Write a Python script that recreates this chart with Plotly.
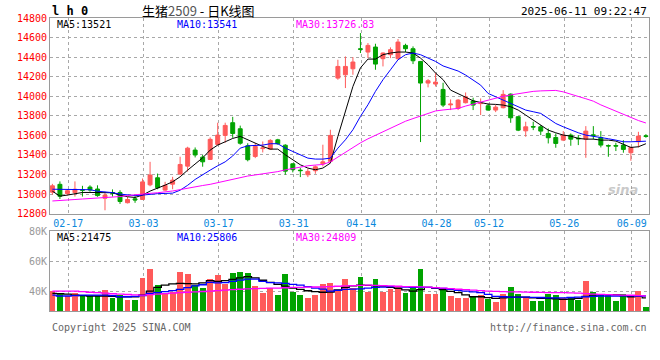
import plotly.graph_objects as go

# ---------------- data ----------------
DATES = ["02-13", "02-14", "02-17", "02-18", "02-19", "02-20", "02-21", "02-24", "02-25", "02-26",
         "02-27", "02-28", "03-03", "03-04", "03-05", "03-06", "03-07", "03-10", "03-11", "03-12",
         "03-13", "03-14", "03-17", "03-18", "03-19", "03-20", "03-21", "03-24", "03-25", "03-26",
         "03-27", "03-28", "03-31", "04-01", "04-02", "04-03", "04-07", "04-08", "04-09", "04-10",
         "04-11", "04-14", "04-15", "04-16", "04-17", "04-18", "04-21", "04-22", "04-23", "04-24",
         "04-25", "04-28", "04-29", "04-30", "05-06", "05-07", "05-08", "05-09", "05-12", "05-13",
         "05-14", "05-15", "05-16", "05-19", "05-20", "05-21", "05-22", "05-23", "05-26", "05-27",
         "05-28", "05-29", "05-30", "06-03", "06-04", "06-05", "06-06", "06-09", "06-10", "06-11"]

OPEN = [13020, 13100, 13005, 13015, 13045, 13072, 13052, 12958, 13016, 13017,
        12912, 12952, 12945, 13095, 13167, 13041, 13102, 13205, 13286, 13450,
        13378, 13355, 13508, 13600, 13730, 13668, 13494, 13385, 13465, 13460,
        13555, 13500, 13310, 13245, 13198, 13239, 13310, 13335, 14186, 14220,
        14281, 14485, 14452, 14503, 14384, 14425, 14384, 14520, 14486, 14356,
        14135, 14125, 14070, 13912, 13876, 13934, 13951, 13925, 13903, 13859,
        13883, 14022, 13791, 13647, 13690, 13688, 13620, 13579, 13552, 13603,
        13572, 13562, 13606, 13579, 13496, 13497, 13501, 13423, 13535, 13596]
HIGH = [13105, 13130, 13050, 13130, 13085, 13090, 13090, 13025, 13048, 13040,
        12973, 12980, 13160, 13330, 13210, 13126, 13177, 13382, 13484, 13477,
        13400, 13580, 13730, 13730, 13790, 13700, 13520, 13521, 13538, 13562,
        13565, 13510, 13312, 13266, 13259, 13293, 13505, 13658, 14373, 14407,
        14400, 14646, 14544, 14537, 14448, 14500, 14585, 14537, 14510, 14360,
        14176, 14237, 14138, 13968, 13971, 14039, 13985, 13978, 13927, 13910,
        14063, 14029, 13797, 13740, 13740, 13705, 13671, 13620, 13644, 13620,
        13603, 13695, 13695, 13644, 13508, 13525, 13552, 13484, 13637, 13613]
LOW = [12995, 12950, 12985, 12975, 12975, 13025, 12973, 12835, 12975, 12900,
       12905, 12911, 12940, 13080, 13050, 13034, 13050, 13194, 13230, 13375,
       13280, 13350, 13500, 13525, 13575, 13505, 13335, 13368, 13426, 13453,
       13505, 13198, 13222, 13174, 13174, 13208, 13283, 13317, 14169, 14084,
       14220, 14442, 14390, 14271, 14305, 14390, 14373, 14452, 14329, 13532,
       14091, 14100, 13890, 13859, 13859, 13927, 13859, 13808, 13852, 13838,
       13876, 13729, 13644, 13586, 13654, 13603, 13518, 13474, 13542, 13494,
       13501, 13371, 13559, 13477, 13382, 13440, 13423, 13341, 13477, 13576]
CLOSE = [13085, 12978, 13035, 13050, 13040, 13042, 12985, 12990, 13010, 12925,
         12945, 12940, 13125, 13195, 13065, 13089, 13143, 13303, 13470, 13400,
         13330, 13560, 13603, 13702, 13620, 13520, 13352, 13487, 13472, 13549,
         13515, 13235, 13250, 13240, 13232, 13279, 13330, 13600, 14305, 14305,
         14350, 14480, 14520, 14329, 14442, 14476, 14554, 14486, 14363, 14135,
         14159, 14145, 13910, 13920, 13961, 13995, 13910, 13930, 13859, 13889,
         14019, 13780, 13654, 13688, 13686, 13644, 13576, 13518, 13603, 13562,
         13566, 13644, 13600, 13501, 13492, 13491, 13457, 13477, 13593, 13590]

MA5 = [13030, 12980, 12990, 13007, 13017, 13017, 13017, 13015, 13014, 12990,
       12973, 12966, 12990, 13031, 13058, 13092, 13126, 13177, 13245, 13313,
       13371, 13450, 13501, 13535, 13569, 13590, 13555, 13521, 13487, 13460,
       13460, 13402, 13351, 13300, 13266, 13249, 13266, 13317, 13590, 13850,
       14100, 14290, 14380, 14380, 14425, 14442, 14452, 14452, 14442, 14390,
       14322, 14237, 14170, 14063, 14029, 13995, 13954, 13937, 13920, 13917,
       13910, 13893, 13859, 13808, 13757, 13705, 13654, 13627, 13603, 13593,
       13569, 13562, 13562, 13552, 13552, 13542, 13511, 13477, 13484, 13515]
MA10 = [13050, 13050, 13048, 13048, 13048, 13045, 13030, 13024, 13015, 13000,
        12990, 12985, 12990, 13000, 13005, 13007, 13010, 13040, 13090, 13150,
        13200, 13245, 13290, 13330, 13390, 13470, 13494, 13494, 13501, 13515,
        13515, 13470, 13436, 13402, 13368, 13358, 13358, 13368, 13470, 13555,
        13658, 13794, 13913, 14050, 14169, 14271, 14373, 14425, 14442, 14425,
        14390, 14356, 14310, 14285, 14258, 14217, 14166, 14114, 14029, 13995,
        13961, 13927, 13893, 13859, 13842, 13825, 13774, 13722, 13688, 13654,
        13627, 13603, 13593, 13579, 13566, 13552, 13535, 13535, 13537, 13541]
MA30 = [12930, 12933, 12940, 12945, 12950, 12955, 12958, 12962, 12968, 12975,
        12985, 12995, 13003, 13008, 13014, 13022, 13032, 13046, 13062, 13072,
        13088, 13100, 13118, 13135, 13152, 13170, 13185, 13196, 13206, 13218,
        13230, 13248, 13262, 13280, 13290, 13297, 13303, 13330, 13380, 13432,
        13480, 13524, 13565, 13602, 13642, 13678, 13710, 13745, 13772, 13796,
        13822, 13850, 13860, 13866, 13876, 13900, 13920, 13940, 13963, 13982,
        14000, 14014, 14027, 14038, 14050, 14055, 14060, 14060, 14045, 14025,
        13998, 13975, 13950, 13912, 13880, 13845, 13810, 13782, 13752, 13727]

# volume, thousands of lots
VOLUME = [40.0, 38.5, 36.5, 38.5, 37.1, 36.5, 36.5, 40.7, 35.3, 37.1,
          34.0, 34.0, 48.7, 54.7, 44.0, 38.5, 39.5, 52.7, 51.3, 44.0,
          42.0, 48.0, 50.7, 44.7, 52.0, 52.7, 52.0, 43.3, 38.9, 42.0,
          37.3, 51.3, 39.3, 37.3, 35.3, 37.3, 44.7, 45.3, 40.7, 48.0,
          42.0, 49.3, 39.3, 48.0, 39.3, 41.3, 43.3, 38.7, 42.0, 54.7,
          38.0, 38.0, 42.0, 36.7, 35.3, 35.3, 36.7, 37.3, 34.7, 32.7,
          38.0, 42.7, 38.0, 36.0, 33.3, 33.3, 38.0, 37.3, 35.3, 35.3,
          34.0, 46.7, 39.3, 37.3, 37.3, 33.3, 38.0, 36.0, 40.0, 29.3]
VOL_MA5 = [38.5, 38.3, 38.0, 37.3, 37.0, 36.7, 36.7, 36.7, 36.5, 36.2,
           36.2, 36.2, 37.5, 40.0, 42.5, 44.0, 44.8, 45.1, 45.0, 44.8,
           45.5, 46.9, 46.5, 47.0, 47.8, 48.8, 49.6, 48.8, 47.2, 45.8,
           44.5, 43.3, 42.0, 41.1, 40.2, 39.6, 39.2, 39.3, 40.8, 42.4,
           43.5, 44.0, 43.8, 43.5, 43.3, 42.5, 41.8, 40.8, 40.0, 41.0,
           42.4, 41.8, 41.0, 39.8, 38.9, 37.5, 36.2, 36.2, 35.6, 35.1,
           35.5, 36.0, 36.0, 36.0, 35.5, 35.1, 35.1, 34.8, 34.4, 34.6,
           35.1, 36.5, 37.3, 37.6, 37.6, 37.6, 37.0, 36.2, 36.4, 35.5]
VOL_MA10 = [37.3, 36.7, 36.7, 37.0, 37.3, 37.3, 37.3, 37.3, 37.0, 36.2,
            36.2, 36.5, 37.0, 38.5, 39.0, 39.6, 40.3, 41.1, 42.3, 43.4,
            44.2, 45.8, 45.5, 45.6, 46.5, 47.3, 48.0, 48.0, 46.5, 45.6,
            45.4, 45.1, 44.5, 44.0, 43.0, 42.0, 41.3, 40.0, 40.5, 41.1,
            41.3, 41.5, 42.0, 42.4, 42.6, 42.9, 42.9, 42.6, 42.5, 42.4,
            42.4, 42.2, 41.8, 41.2, 40.5, 40.0, 39.4, 38.9, 37.8, 36.5,
            36.2, 36.0, 36.0, 36.0, 35.8, 35.7, 35.5, 35.5, 35.5, 35.7,
            35.9, 36.2, 36.5, 36.7, 36.7, 36.7, 36.8, 36.8, 36.7, 36.7]
VOL_MA30 = [40.0, 40.0, 40.0, 40.0, 39.6, 39.2, 38.9, 38.6, 38.2, 38.0,
            37.7, 37.4, 37.3, 37.6, 38.0, 38.3, 38.6, 38.9, 39.2, 39.5,
            39.7, 40.0, 40.3, 40.6, 41.0, 41.2, 41.4, 41.6, 41.8, 41.9,
            42.0, 42.2, 42.4, 42.5, 42.6, 42.7, 42.8, 43.0, 43.2, 43.4,
            43.6, 43.8, 44.0, 43.8, 43.6, 43.4, 43.2, 43.0, 42.9, 42.8,
            42.6, 42.3, 42.0, 41.6, 41.2, 41.0, 40.6, 40.3, 40.0, 39.8,
            39.6, 39.5, 39.4, 39.3, 39.2, 39.1, 39.0, 38.9, 38.9, 38.8,
            38.6, 38.3, 38.0, 37.8, 37.6, 37.4, 37.3, 37.2, 37.0, 36.8]

TICK_DATES = ["02-17", "03-03", "03-17", "03-31", "04-14", "04-28", "05-12", "05-26", "06-09"]
PRICE_TICKS = [12800, 13000, 13200, 13400, 13600, 13800, 14000, 14200, 14400, 14600, 14800]
VOL_TICKS = [40, 60, 80]
VOL_TICK_TEXT = ["40K", "60K", "80K"]

TITLE_CODE = "l h 0"
TITLE = "生猪<span style='color:#555555'>2509</span> - 日K线图"
TIMESTAMP = "2025-06-11 09:22:47"
PRICE_MA_LABELS = ["MA5:13521", "MA10:13541", "MA30:13726.83"]
VOL_MA_LABELS = ["MA5:21475", "MA10:25806", "MA30:24809"]

# ---------------- style ----------------
RED = "#ff5a5a"
GREEN = "#00a300"
GRID = "#a8a8a8"
FRAME = "#9a9a9a"
MONO = "DejaVu Sans Mono"
MA_COLORS = ["#000000", "#0000ff", "#ff00ff"]

idx = list(range(len(DATES)))
tickvals = [DATES.index(d) + 0.12 for d in TICK_DATES]
bar_colors = [RED if c >= o else GREEN for o, c in zip(OPEN, CLOSE)]

fig = go.Figure()

fig.add_trace(go.Candlestick(
    x=idx, open=OPEN, high=HIGH, low=LOW, close=CLOSE,
    increasing=dict(line=dict(color=RED, width=1), fillcolor=RED),
    decreasing=dict(line=dict(color=GREEN, width=1), fillcolor=GREEN),
    whiskerwidth=0, xaxis="x", yaxis="y", hoverinfo="skip",
))
for ser, col in zip([MA5, MA10, MA30], MA_COLORS):
    fig.add_trace(go.Scatter(x=idx, y=ser, mode="lines", line=dict(color=col, width=1),
                             xaxis="x", yaxis="y", hoverinfo="skip"))

fig.add_trace(go.Bar(x=idx, y=VOLUME, marker=dict(color=bar_colors, line=dict(width=0)),
                     width=0.78, xaxis="x2", yaxis="y2", hoverinfo="skip"))
for ser, col in zip([VOL_MA5, VOL_MA10, VOL_MA30], MA_COLORS):
    fig.add_trace(go.Scatter(x=idx, y=ser, mode="lines", line=dict(color=col, width=1.3, shape="hvh"),
                             xaxis="x2", yaxis="y2", hoverinfo="skip"))

XR = [-0.32, 79.41]
axis_common = dict(showgrid=True, gridcolor=GRID, griddash="dot", gridwidth=1,
                   showline=True, linecolor=FRAME, linewidth=1, mirror=True,
                   zeroline=False, ticks="", automargin=False)

fig.update_layout(
    width=660, height=360,
    margin=dict(l=50, r=11, t=18, b=42, autoexpand=False),
    paper_bgcolor="white", plot_bgcolor="white",
    showlegend=False, hovermode=False, boxgap=0.25, bargap=0,
    xaxis=dict(domain=[0, 1], range=XR, anchor="y", tickmode="array",
               tickvals=tickvals, ticktext=TICK_DATES,
               tickfont=dict(family=MONO, size=10, color="#0a88dc"),
               rangeslider=dict(visible=False), **axis_common),
    yaxis=dict(domain=[0.3477, 1.0], range=[12800, 14800], anchor="x", tickmode="array",
               tickvals=PRICE_TICKS, ticktext=[str(v) for v in PRICE_TICKS],
               tickfont=dict(family=MONO, size=10, color="#ff0000"), **axis_common),
    xaxis2=dict(domain=[0, 1], range=XR, anchor="y2", tickmode="array",
                tickvals=tickvals, showticklabels=False, **axis_common),
    yaxis2=dict(domain=[0.0233, 0.29], range=[26.7, 80], anchor="x2", tickmode="array",
                tickvals=VOL_TICKS, ticktext=VOL_TICK_TEXT,
                tickfont=dict(family=MONO, size=10, color="#999999"), **axis_common),
)

ann = []
ann.append(dict(text="<b>" + TITLE_CODE + "</b>", x=0.0, y=1.024, xref="paper", yref="paper",
                xanchor="left", yanchor="middle", showarrow=False,
                font=dict(family=MONO, size=12, color="#000000")))
ann.append(dict(text=TITLE, x=0.150, y=1.024, xref="paper", yref="paper",
                xanchor="left", yanchor="middle", showarrow=False,
                font=dict(family="Noto Sans CJK SC", size=13, color="#000000")))
ann.append(dict(text=TIMESTAMP, x=1.0, y=1.02, xref="paper", yref="paper",
                xanchor="right", yanchor="middle", showarrow=False,
                font=dict(family=MONO, size=11, color="#000000")))
label_x = [0.0083, 0.2087, 0.407]
for t, c, lx in zip(PRICE_MA_LABELS, MA_COLORS, label_x):
    ann.append(dict(text=t, x=lx, y=0.98, xref="paper", yref="paper", xanchor="left",
                    yanchor="middle", showarrow=False, font=dict(family=MONO, size=10, color=c)))
for t, c, lx in zip(VOL_MA_LABELS, MA_COLORS, label_x):
    ann.append(dict(text=t, x=lx, y=0.267, xref="paper", yref="paper", xanchor="left",
                    yanchor="middle", showarrow=False, font=dict(family=MONO, size=10, color=c)))
ann.append(dict(text="Copyright 2025 SINA.COM", x=0.0, y=-0.03, xref="paper", yref="paper",
                xanchor="left", yanchor="middle", showarrow=False,
                font=dict(family=MONO, size=10, color="#666666")))
ann.append(dict(text="http://finance.sina.com.cn", x=1.0, y=-0.03, xref="paper", yref="paper",
                xanchor="right", yanchor="middle", showarrow=False,
                font=dict(family=MONO, size=10, color="#666666")))
ann.append(dict(text="<b><i>sina</i></b>", x=0.985, y=0.43, xref="paper", yref="paper",
                xanchor="right", yanchor="middle", showarrow=False, opacity=0.45,
                font=dict(family="DejaVu Sans", size=13, color="#888888")))
fig.update_layout(annotations=ann)

# remove the browser's default 8px page margin so the figure sits at the window's corner
fig.write_html("out.html", config={"displayModeBar": False, "staticPlot": True},
               post_script="document.body.style.margin='0';")
